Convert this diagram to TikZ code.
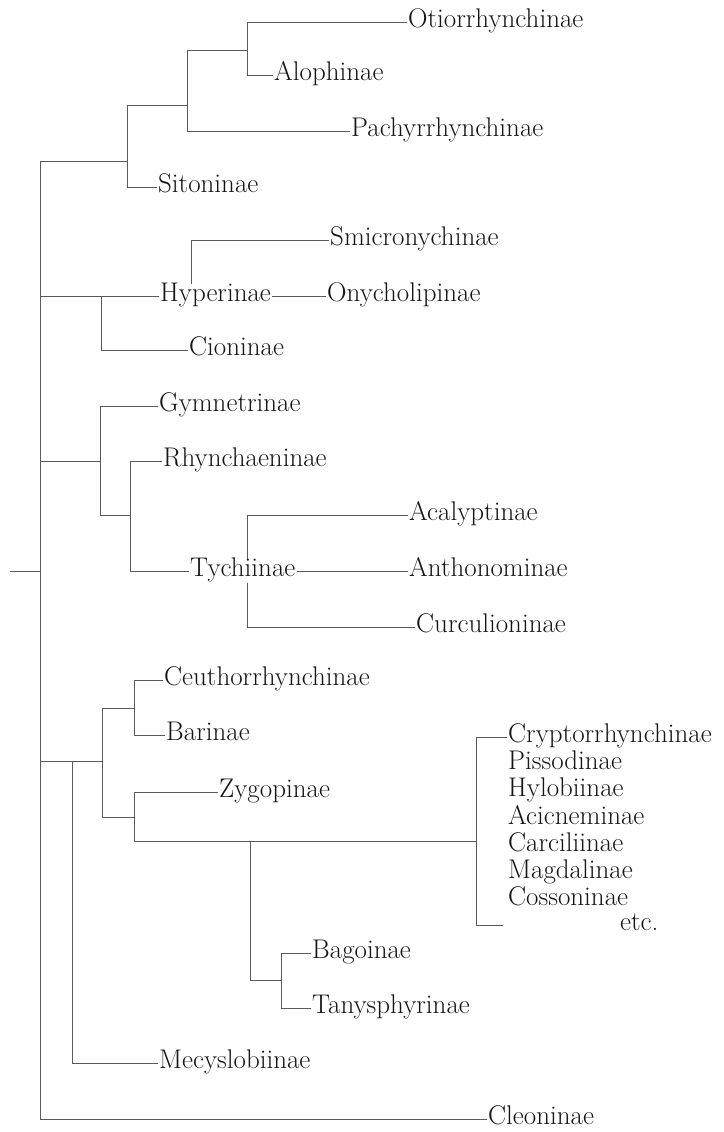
\documentclass[tikz,border=0pt]{standalone}
\usepackage{fontspec}
\usepackage{xcolor}
\usetikzlibrary{positioning}
\definecolor{inkgray}{HTML}{151515}
\definecolor{linegray}{HTML}{5A5A5A}

\begin{document}
\begin{tikzpicture}[x=1pt, y=-1pt,
    taxon/.style={anchor=west, inner xsep=1pt, inner ysep=0pt,
                  text height=17pt, text depth=6pt, text=inkgray,
                  font=\fontsize{27}{29}\selectfont},
    branch/.style={draw=linegray, line width=0.9pt}
  ]
    \useasboundingbox (0,0) rectangle (723,1132);

    \node[taxon] (oti) at (407,22) {Otiorrhynchinae};
    \node[taxon] (alo) at (273,75) {Alophinae};
    \node[taxon] (pac) at (350,131) {Pachyrrhynchinae};
    \node[taxon] (sit) at (157,187) {Sitoninae};
    \node[taxon] (smi) at (329,240) {Smicronychinae};
    \node[taxon] (hyp) at (159,296) {Hyperinae};
    \node[taxon] (ony) at (326,296) {Onycholipinae};
    \node[taxon] (cio) at (188,350) {Cioninae};
    \node[taxon] (gym) at (158,406) {Gymnetrinae};
    \node[taxon] (rhy) at (162,461) {Rhynchaeninae};
    \node[taxon] (aca) at (408,515) {Acalyptinae};
    \node[taxon] (tyc) at (189,571) {Tychiinae};
    \node[taxon] (ant) at (408,571) {Anthonominae};
    \node[taxon] (cur) at (415,627) {Curculioninae};
    \node[taxon] (ceu) at (163,680) {Ceuthorrhynchinae};
    \node[taxon] (bar) at (165,735) {Barinae};
    \node[taxon] (zyg) at (218,792) {Zygopinae};
    \node[taxon] (cry) at (507,737) {Cryptorrhynchinae};
    \foreach \name/\txt [count=\k] in {pis/Pissodinae, hyl/Hylobiinae,
        aci/Acicneminae, car/Carciliinae, mag/Magdalinae, cos/Cossoninae}
      \node[taxon] (\name) at (507,737+27.2*\k) {\txt};
    \node[taxon] (etc) at (619,925) {etc.};
    \node[taxon] (bag) at (311,953) {Bagoinae};
    \node[taxon] (tan) at (311,1008) {Tanysphyrinae};
    \node[taxon] (mec) at (158,1063) {Mecyslobiinae};
    \node[taxon] (cle) at (487,1119) {Cleoninae};

    % spine
    \coordinate (root) at (10,571);
    \coordinate (sp1) at (40,161);
    \coordinate (sp9) at (40,1119);
    \draw[branch] (sp1) -- (sp9);
    \draw[branch] (root) -- (root -| sp1);
    \draw[branch] (sp9) -- (cle);

    % Otiorrhynchinae group
    \coordinate (a1) at (127,161);
    \coordinate (a2) at (187,105);
    \coordinate (a3) at (247,50);
    \draw[branch] (sp1) -- (a1);
    \draw[branch] (a2 -| a1) -- (sit -| a1) -- (sit);
    \draw[branch] (a2 -| a1) -- (a2);
    \draw[branch] (a3 -| a2) -- (pac -| a2) -- (pac);
    \draw[branch] (a3 -| a2) -- (a3);
    \draw[branch] (oti -| a3) -- (oti);
    \draw[branch] (oti -| a3) -- (alo -| a3) -- (alo);

    % Hyperinae group
    \coordinate (h1) at (101,296);
    \coordinate (h2) at (191,240);
    \draw[branch] (hyp -| sp1) -- (hyp);
    \draw[branch] (h1) -- (cio -| h1) -- (cio);
    \draw[branch] (hyp.north -| h2) -- (h2) -- (smi);
    \draw[branch] (hyp) -- (ony);

    % Gymnetrinae group
    \coordinate (g1) at (100,461);
    \coordinate (g2) at (130,515);
    \coordinate (t1) at (247,515);
    \draw[branch] (g1 -| sp1) -- (g1);
    \draw[branch] (gym -| g1) -- (gym);
    \draw[branch] (gym -| g1) -- (g2 -| g1) -- (g2);
    \draw[branch] (rhy -| g2) -- (rhy);
    \draw[branch] (rhy -| g2) -- (tyc -| g2) -- (tyc);
    \draw[branch] (tyc.north -| t1) -- (t1) -- (aca);
    \draw[branch] (tyc.south -| t1) -- (cur -| t1) -- (cur);
    \draw[branch] (tyc) -- (ant);

    % Barinae group
    \coordinate (b1) at (102,761);
    \coordinate (b2) at (134,708);
    \coordinate (b3) at (134,817);
    \coordinate (b4) at (134,841);
    \coordinate (b5) at (476,841);
    \coordinate (b6) at (250,841);
    \coordinate (b7) at (281,980);
    \coordinate (m1) at (72,761);
    \coordinate (e1) at (476,925);
    \coordinate (e2) at (503,925);
    \draw[branch] (b1 -| sp1) -- (b1);
    \draw[branch] (b2 -| b1) -- (b3 -| b1) -- (b3);
    \draw[branch] (b2 -| b1) -- (b2);
    \draw[branch] (ceu -| b2) -- (ceu);
    \draw[branch] (ceu -| b2) -- (bar -| b2) -- (bar);
    \draw[branch] (zyg -| b3) -- (zyg);
    \draw[branch] (zyg -| b3) -- (b4) -- (b5);
    \draw[branch] (cry -| b5) -- (cry);
    \draw[branch] (cry -| b5) -- (e1) -- (e2);
    \draw[branch] (b6) -- (b7 -| b6) -- (b7);
    \draw[branch] (bag -| b7) -- (bag);
    \draw[branch] (bag -| b7) -- (tan -| b7) -- (tan);
    \draw[branch] (m1) -- (mec -| m1) -- (mec);
  \end{tikzpicture}
\end{document}
